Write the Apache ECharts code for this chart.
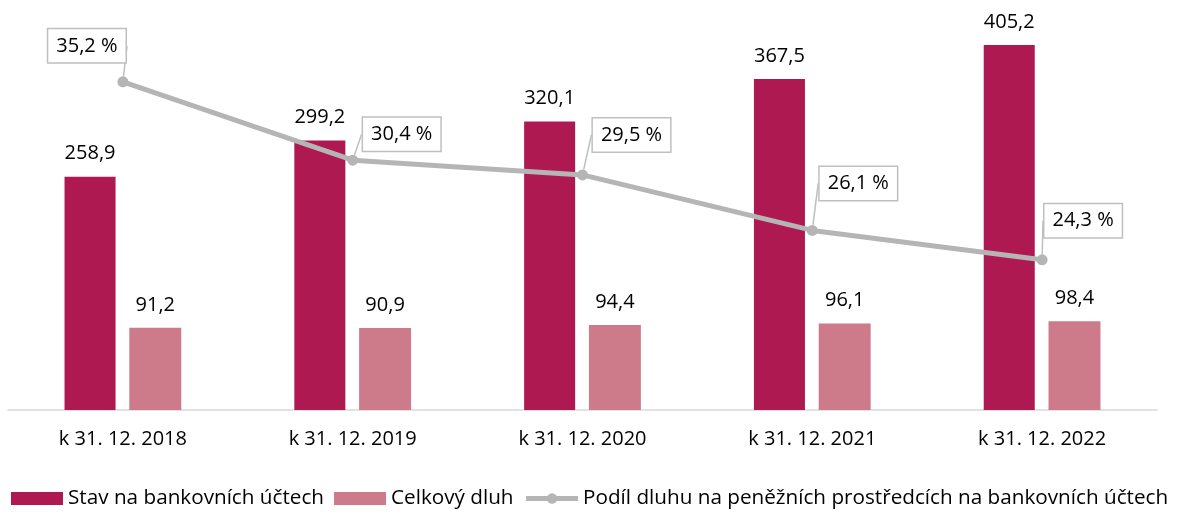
<!DOCTYPE html>
<html>
<head>
<meta charset="utf-8">
<script src="https://cdn.jsdelivr.net/npm/echarts@6/dist/echarts.min.js"></script>
<style>
  html, body { margin: 0; padding: 0; background: #fff; }
  #chart { width: 1178px; height: 512px; }
</style>
</head>
<body>
<div id="chart"></div>
<script>
// Year-end balances (bn CZK) and debt share (%)
const categories = ['k 31. 12. 2018', 'k 31. 12. 2019', 'k 31. 12. 2020', 'k 31. 12. 2021', 'k 31. 12. 2022'];
const balance = [258.9, 299.2, 320.1, 367.5, 405.2];
const debt = [91.2, 90.9, 94.4, 96.1, 98.4];
const debtShare = [35.2, 30.4, 29.5, 26.1, 24.3];

const seriesNames = [
  'Stav na bankovních účtech',
  'Celkový dluh',
  'Podíl dluhu na peněžních prostředcích na bankovních účtech'
];

// Callout offsets for the share labels (relative to each point)
const calloutOffsets = [[-36, -36], [49, -26], [49, -40], [46, -47], [41, -39]];

const FONT = '"Open Sans", "Noto Sans", sans-serif';
const FS = 20;
const fmt = v => v.toFixed(1).replace('.', ',');

const chart = echarts.init(document.getElementById('chart'), null, { renderer: 'canvas' });

chart.setOption({
  animation: false,
  textStyle: { fontFamily: FONT },
  grid: { left: 8, right: 21, top: 10, bottom: 102 },
  legend: {
    left: 11,
    top: 488,
    width: 1167,
    padding: 0,
    itemWidth: 52,
    itemHeight: 13,
    itemGap: 10,
    textStyle: { fontSize: 20.7, color: '#000', fontFamily: FONT },
    data: [
      { name: seriesNames[0], icon: 'rect' },
      { name: seriesNames[1], icon: 'rect' },
      { name: seriesNames[2], lineStyle: { width: 5, color: '#B5B5B5' } }
    ]
  },
  xAxis: {
    type: 'category',
    data: categories,
    axisLine: { lineStyle: { color: '#D9D9D9', width: 1.5 } },
    axisTick: { show: false },
    axisLabel: { fontSize: FS, color: '#000', margin: 19, fontFamily: FONT }
  },
  yAxis: [
    { type: 'value', min: 0, max: 444, show: false, splitLine: { show: false } },
    { type: 'value', min: 15.1, max: 39.6, show: false, splitLine: { show: false } }
  ],
  series: [
    {
      name: seriesNames[0],
      type: 'bar',
      data: balance,
      barWidth: '22.2%',
      barGap: '27%',
      itemStyle: { color: '#AE1952' },
      label: {
        show: true, position: 'top', distance: 13,
        fontSize: FS, color: '#000', fontFamily: FONT,
        formatter: p => fmt(p.value)
      }
    },
    {
      name: seriesNames[1],
      type: 'bar',
      data: debt,
      itemStyle: { color: '#CD7A8A' },
      label: {
        show: true, position: 'top', distance: 13,
        fontSize: FS, color: '#000', fontFamily: FONT,
        formatter: p => fmt(p.value)
      }
    },
    {
      name: seriesNames[2],
      type: 'line',
      yAxisIndex: 1,
      data: debtShare,
      z: 5,
      symbol: 'circle',
      symbolSize: 11,
      lineStyle: { color: '#B5B5B5', width: 5 },
      itemStyle: { color: '#B5B5B5' },
      label: {
        show: true,
        position: 'inside',
        fontSize: FS,
        color: '#000',
        fontFamily: FONT,
        backgroundColor: '#fff',
        borderColor: '#BFBFBF',
        borderWidth: 1.5,
        padding: [7, 8, 6, 8],
        formatter: p => fmt(p.value) + ' %'
      },
      labelLine: {
        show: true,
        lineStyle: { color: '#BFBFBF', width: 1.5 }
      },
      labelLayout: p => ({ dx: calloutOffsets[p.dataIndex][0], dy: calloutOffsets[p.dataIndex][1] })
    }
  ]
});
</script>
</body>
</html>
